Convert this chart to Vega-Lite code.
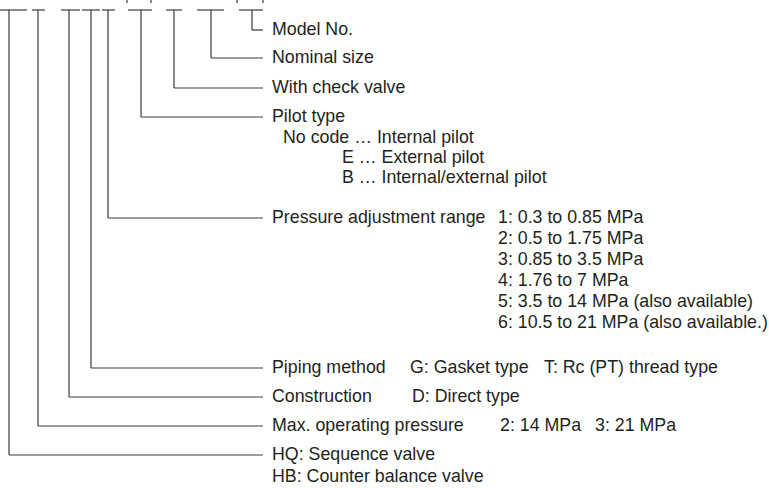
{
  "$schema": "https://vega.github.io/schema/vega-lite/v6.json",
  "width": 769,
  "height": 488,
  "padding": 0,
  "autosize": {"type": "none"},
  "background": "white",
  "config": {"view": {"stroke": null}},
  "datasets": {
    "segs": [
      {"x": 0, "y": 10, "x2": 27, "y2": 10},
      {"x": 32, "y": 10, "x2": 45, "y2": 10},
      {"x": 61, "y": 10, "x2": 80, "y2": 10},
      {"x": 82, "y": 10, "x2": 100, "y2": 10},
      {"x": 102, "y": 10, "x2": 115, "y2": 10},
      {"x": 128, "y": 10, "x2": 152, "y2": 10},
      {"x": 166, "y": 10, "x2": 182, "y2": 10},
      {"x": 197, "y": 10, "x2": 224, "y2": 10},
      {"x": 239, "y": 10, "x2": 263, "y2": 10},
      {"x": 9, "y": 10, "x2": 9, "y2": 455},
      {"x": 38, "y": 10, "x2": 38, "y2": 426},
      {"x": 69, "y": 10, "x2": 69, "y2": 397},
      {"x": 91, "y": 10, "x2": 91, "y2": 368},
      {"x": 108, "y": 10, "x2": 108, "y2": 218},
      {"x": 141, "y": 10, "x2": 141, "y2": 117},
      {"x": 174, "y": 10, "x2": 174, "y2": 88},
      {"x": 211, "y": 10, "x2": 211, "y2": 58},
      {"x": 252, "y": 10, "x2": 252, "y2": 30},
      {"x": 9, "y": 455, "x2": 263, "y2": 455},
      {"x": 38, "y": 426, "x2": 263, "y2": 426},
      {"x": 69, "y": 397, "x2": 263, "y2": 397},
      {"x": 91, "y": 368, "x2": 263, "y2": 368},
      {"x": 108, "y": 218, "x2": 263, "y2": 218},
      {"x": 141, "y": 117, "x2": 263, "y2": 117},
      {"x": 174, "y": 88, "x2": 263, "y2": 88},
      {"x": 211, "y": 58, "x2": 263, "y2": 58},
      {"x": 252, "y": 30, "x2": 263, "y2": 30},
      {"x": 127, "y": 0, "x2": 127, "y2": 3},
      {"x": 151, "y": 0, "x2": 151, "y2": 3},
      {"x": 237, "y": 0, "x2": 237, "y2": 3},
      {"x": 263, "y": 0, "x2": 263, "y2": 3}
    ],
    "labels": [
      {"x": 272, "y": 30, "t": "Model No."},
      {"x": 272, "y": 58, "t": "Nominal size"},
      {"x": 272, "y": 88, "t": "With check valve"},
      {"x": 272, "y": 117, "t": "Pilot type"},
      {"x": 283, "y": 138, "t": "No code … Internal pilot"},
      {"x": 342, "y": 158, "t": "E … External pilot"},
      {"x": 342, "y": 178, "t": "B … Internal/external pilot"},
      {"x": 272, "y": 218, "t": "Pressure adjustment range"},
      {"x": 498, "y": 218, "t": "1: 0.3 to 0.85 MPa"},
      {"x": 498, "y": 239, "t": "2: 0.5 to 1.75 MPa"},
      {"x": 498, "y": 260, "t": "3: 0.85 to 3.5 MPa"},
      {"x": 498, "y": 281, "t": "4: 1.76 to 7 MPa"},
      {"x": 498, "y": 302, "t": "5: 3.5 to 14 MPa (also available)"},
      {"x": 498, "y": 323, "t": "6: 10.5 to 21 MPa (also available.)"},
      {"x": 272, "y": 368, "t": "Piping method"},
      {"x": 410, "y": 368, "t": "G: Gasket type"},
      {"x": 544, "y": 368, "t": "T: Rc (PT) thread type"},
      {"x": 272, "y": 397, "t": "Construction"},
      {"x": 412, "y": 397, "t": "D: Direct type"},
      {"x": 272, "y": 426, "t": "Max. operating pressure"},
      {"x": 500, "y": 426, "t": "2: 14 MPa"},
      {"x": 595, "y": 426, "t": "3: 21 MPa"},
      {"x": 272, "y": 455, "t": "HQ: Sequence valve"},
      {"x": 272, "y": 477, "t": "HB: Counter balance valve"}
    ]
  },
  "layer": [
    {
      "data": {"name": "segs"},
      "mark": {"type": "rule", "color": "#3a3a3a", "strokeWidth": 1.2},
      "encoding": {
        "x": {"field": "x", "type": "quantitative", "scale": {"domain": [0, 769], "range": [0, 769], "nice": false, "zero": false}, "axis": null},
        "y": {"field": "y", "type": "quantitative", "scale": {"domain": [0, 488], "range": [0, 488], "nice": false, "zero": false}, "axis": null},
        "x2": {"field": "x2"},
        "y2": {"field": "y2"}
      }
    },
    {
      "data": {"name": "labels"},
      "mark": {"type": "text", "align": "left", "baseline": "middle", "font": "Liberation Sans", "fontSize": 17.8, "color": "#231f20"},
      "encoding": {
        "x": {"field": "x", "type": "quantitative", "scale": {"domain": [0, 769], "range": [0, 769], "nice": false, "zero": false}, "axis": null},
        "y": {"field": "y", "type": "quantitative", "scale": {"domain": [0, 488], "range": [0, 488], "nice": false, "zero": false}, "axis": null},
        "text": {"field": "t", "type": "nominal"}
      }
    }
  ]
}
